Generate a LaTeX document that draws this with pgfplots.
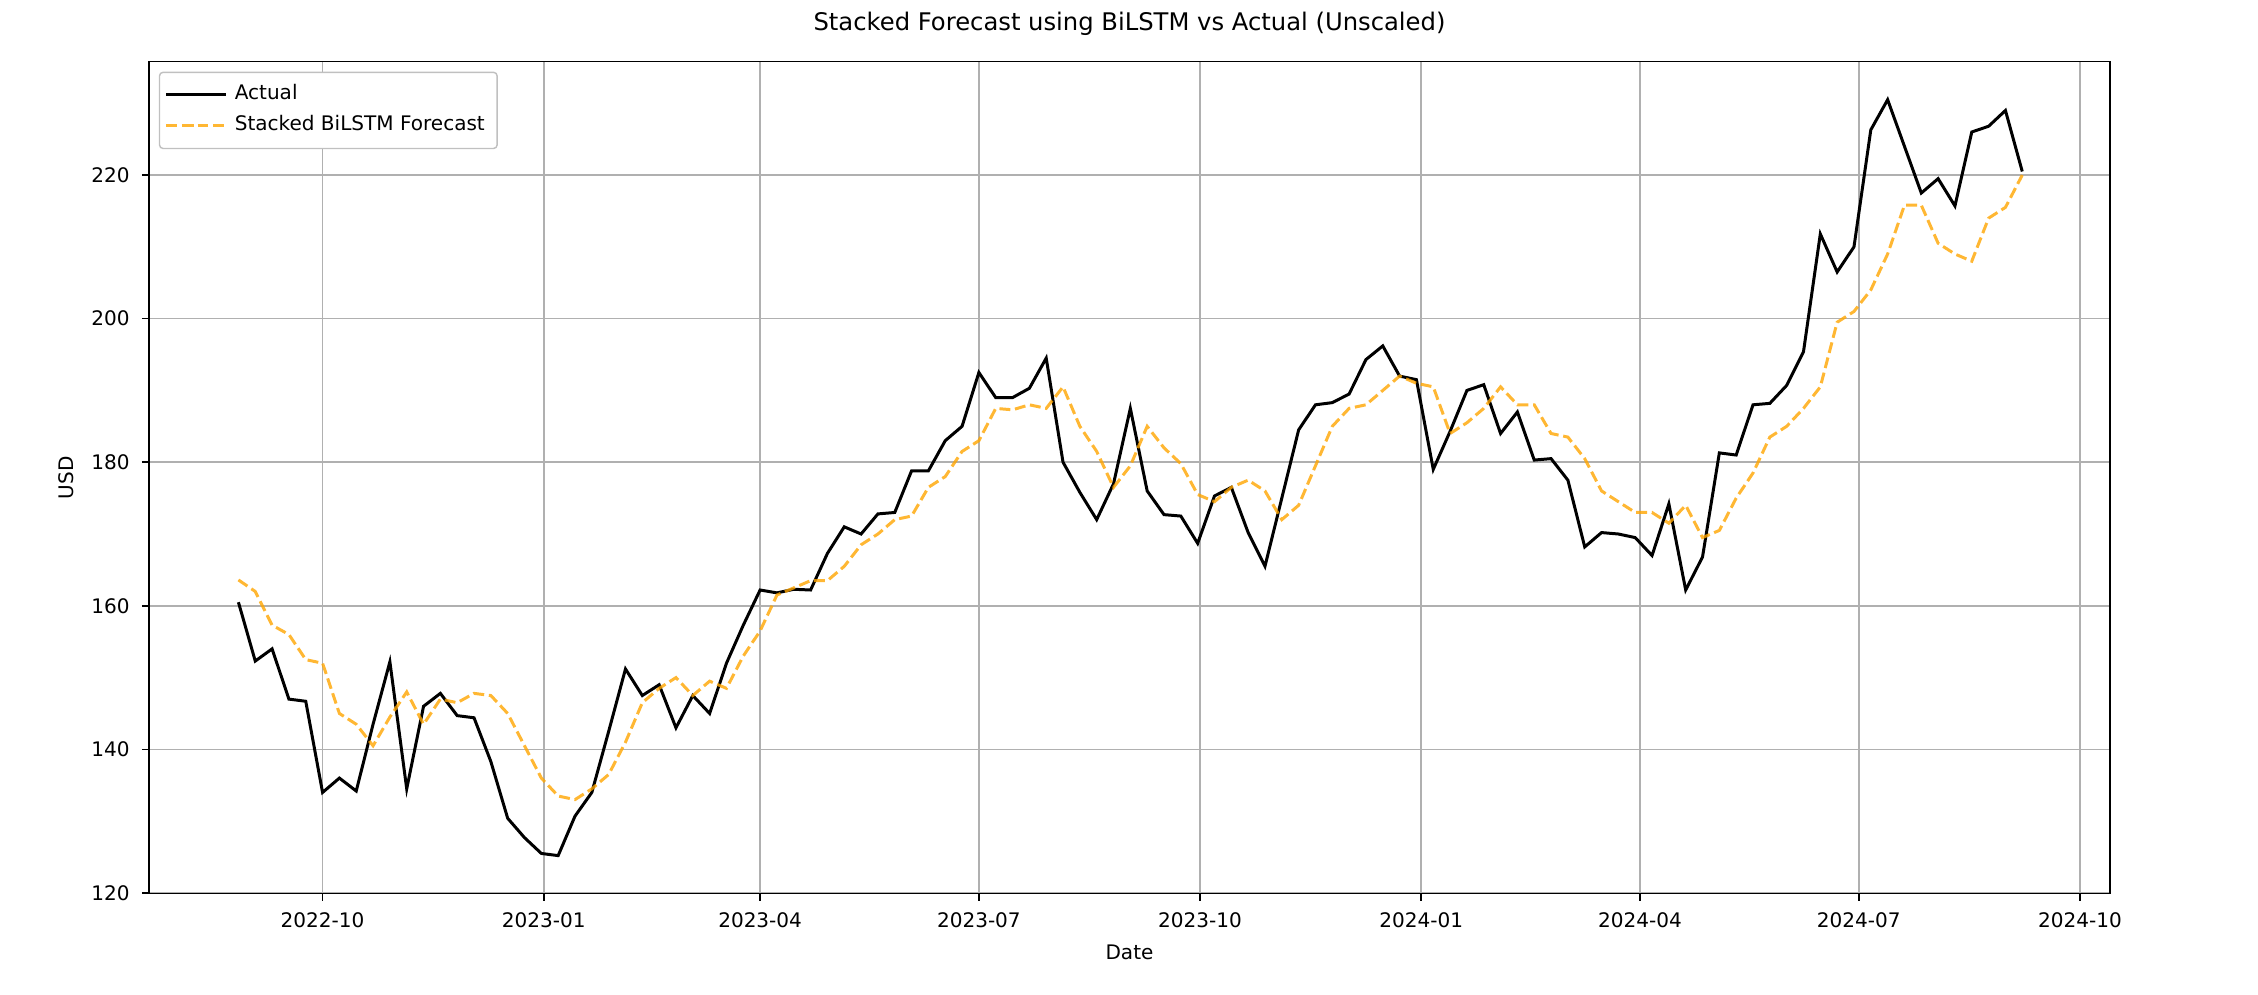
\documentclass[border=0pt]{standalone}
\usepackage{pgfplots}
\pgfplotsset{compat=1.18}
\usepackage{fontspec}
\setmainfont{DejaVu Sans}
\definecolor{mplorange}{RGB}{255,165,0}
\definecolor{gridgray}{RGB}{176,176,176}
\begin{document}
\begin{tikzpicture}
\begin{axis}[
  scale only axis, width=19.61cm, height=8.32cm,
  xmin=-72.2, xmax=743.5, ymin=119.9, ymax=235.8,
  xtick={0,92,182,273,365,457,548,639,731},
  xticklabels={2022-10,2023-01,2023-04,2023-07,2023-10,2024-01,2024-04,2024-07,2024-10},
  ytick={120,140,160,180,200,220},
  grid=major, major grid style={gridgray, line width=0.45pt},
  tick style={black, line width=0.45pt}, major tick length=2pt,
  tick align=outside, xtick pos=bottom, ytick pos=left,
  axis line style={line width=0.45pt},
  /pgf/number format/assume math mode=true,
  tick label style={font=\fontsize{5.7}{7}\selectfont},
  label style={font=\fontsize{5.7}{7}\selectfont},
  title style={font=\fontsize{6.9}{8}\selectfont, yshift=-2pt},
  title={Stacked Forecast using BiLSTM vs Actual (Unscaled)},
  xlabel={Date}, ylabel={USD},
  xlabel style={yshift=2pt}, ylabel style={yshift=-2pt},
  legend style={at={(0.005,0.988)}, anchor=north west, font=\fontsize{5.7}{7}\selectfont, draw=gridgray!80, rounded corners=1pt, inner sep=1.5pt, row sep=-1pt},
  legend cell align=left,
]
\addplot[black, line width=0.85pt] table[x expr={-35+7*\coordindex}, y index=0] {
y
160.5
152.3
154
147
146.7
134
136
134.2
143.5
152.2
134.5
146
147.8
144.7
144.4
138.3
130.4
127.7
125.5
125.2
130.7
134
142.5
151.2
147.5
149
143
147.5
145
152
157.3
162.2
161.8
162.3
162.2
167.3
171
170
172.8
173
178.8
178.8
183
185
192.5
189
189
190.3
194.5
180
175.8
172
177
187.5
176
172.7
172.5
168.7
175.3
176.5
170.2
165.5
175
184.5
188
188.3
189.5
194.3
196.2
192
191.5
179
184.3
190
190.8
184
187
180.3
180.5
177.5
168.2
170.2
170
169.5
167
174.2
162.2
166.8
181.3
181
188
188.2
190.7
195.4
211.8
206.5
210
226.3
230.5
224
217.5
219.5
215.7
226
226.8
229
220.5
};
\addlegendentry{Actual}
\addplot[mplorange, opacity=0.8, line width=0.85pt, dash pattern=on 3.1pt off 1.35pt] table[x expr={-35+7*\coordindex}, y index=0] {
y
163.6
162
157.3
156
152.5
152
145
143.5
140.5
144.5
148
143.5
147
146.5
147.8
147.5
145
140.5
136
133.5
133
134.5
136.5
141
146.5
148.5
150
147.5
149.5
148.5
153
156.5
161.5
162.5
163.5
163.5
165.5
168.5
170
172
172.5
176.5
178
181.5
183
187.5
187.3
188
187.5
190.5
185
181.5
176.5
179.5
185
182
179.8
175.5
174.5
176.5
177.5
176
172
174
179.5
185
187.5
188
190
192
191
190.5
184
185.5
187.5
190.5
188
188
184
183.5
180.5
176
174.5
173
173
171.5
174
169.5
170.5
175
178.5
183.5
185
187.5
190.5
199.5
201
204
209
215.8
215.8
210.5
209
208
214
215.5
220
};
\addlegendentry{Stacked BiLSTM Forecast}
\end{axis}
\useasboundingbox ([xshift=-1.49cm,yshift=-1.01cm]current axis.south west) rectangle ([xshift=1.48cm,yshift=0.55cm]current axis.north east);
\end{tikzpicture}
\end{document}
